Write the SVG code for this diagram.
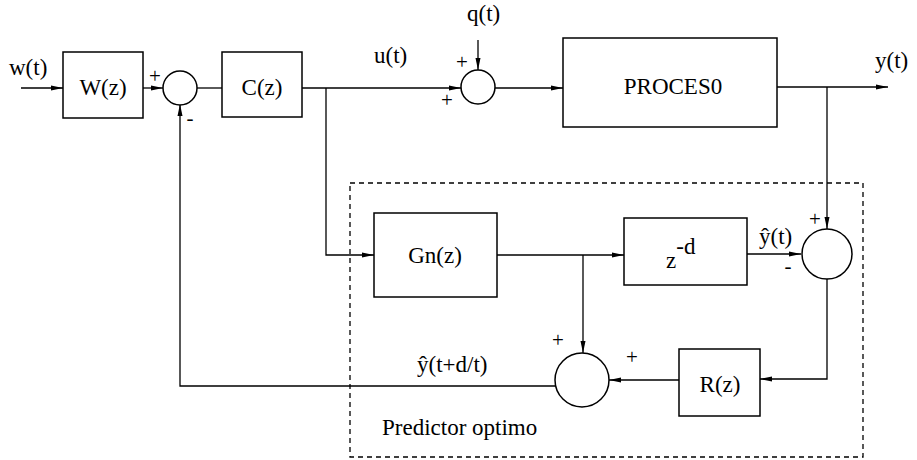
<svg xmlns="http://www.w3.org/2000/svg" width="917" height="460" viewBox="0 0 917 460">
<style>
.b{fill:#fff;stroke:#000;stroke-width:1.5}
.c{fill:none;stroke:#000;stroke-width:1.3}
.t{font-size:23px}
.m{text-anchor:middle}
.s{font-size:21px;text-anchor:middle}
.d{fill:none;stroke:#000;stroke-width:1.3;stroke-dasharray:5 4}
</style>
<defs>
<marker id="a" viewBox="0 0 12 6" refX="12" refY="3" markerWidth="12" markerHeight="6" markerUnits="userSpaceOnUse" orient="auto">
<path d="M0,0.5 L12,3 L0,5.5 Z" fill="#000"/>
</marker>
</defs>
<rect class="d" x="350" y="183" width="513" height="274"/>
<g id="connectors">
<line class="c" x1="21" y1="88" x2="63" y2="88" marker-end="url(#a)"/>
<line class="c" x1="143" y1="88" x2="163" y2="88" marker-end="url(#a)"/>
<line class="c" x1="197" y1="88" x2="222" y2="88"/>
<line class="c" x1="302" y1="88" x2="461" y2="88" marker-end="url(#a)"/>
<line class="c" x1="478" y1="40" x2="478" y2="70" marker-end="url(#a)"/>
<line class="c" x1="495" y1="88" x2="563" y2="88" marker-end="url(#a)"/>
<line class="c" x1="777" y1="87" x2="888" y2="87" marker-end="url(#a)"/>
<line class="c" x1="827" y1="87" x2="827" y2="229" marker-end="url(#a)"/>
<polyline class="c" points="326,88 326,255 374,255" marker-end="url(#a)"/>
<line class="c" x1="497" y1="255" x2="624" y2="255" marker-end="url(#a)"/>
<line class="c" x1="583" y1="255" x2="583" y2="353" marker-end="url(#a)"/>
<line class="c" x1="747" y1="254" x2="801" y2="254" marker-end="url(#a)"/>
<polyline class="c" points="827,279 827,379 760,379" marker-end="url(#a)"/>
<line class="c" x1="679" y1="380" x2="609" y2="380" marker-end="url(#a)"/>
<polyline class="c" points="555,386 180,386 180,104" marker-end="url(#a)"/>
</g>
<g font-family="Liberation Serif, Times New Roman, serif" fill="#000">
<g id="W"><rect class="b" x="63" y="52" width="80" height="66"/><text class="t m" x="103" y="95">W(z)</text></g>
<g id="sum1"><circle class="b" cx="180" cy="88" r="17"/></g>
<g id="C"><rect class="b" x="222" y="52" width="80" height="65"/><text class="t m" x="262" y="95">C(z)</text></g>
<g id="sum2"><circle class="b" cx="478" cy="87" r="17"/></g>
<g id="P"><rect class="b" x="563" y="38" width="214" height="89"/><text class="t m" x="673" y="94">PROCES0</text></g>
<g id="Gn"><rect class="b" x="374" y="213" width="123" height="84"/><text class="t m" x="435" y="263">Gn(z)</text></g>
<g id="Zd"><rect class="b" x="624" y="218" width="123" height="67"/><text class="t" x="666" y="268">z<tspan dy="-14">-d</tspan></text></g>
<g id="sum3"><circle class="b" cx="827" cy="254" r="25"/></g>
<g id="R"><rect class="b" x="679" y="349" width="81" height="67"/><text class="t m" x="720" y="392">R(z)</text></g>
<g id="sum4"><circle class="b" cx="582" cy="380" r="27"/></g>
<g id="labels">
<text class="t" x="9" y="75">w(t)</text>
<text class="s" x="155" y="83">+</text>
<text class="s" x="190" y="125">-</text>
<text class="t" x="374" y="63">u(t)</text>
<text class="t" x="467" y="21">q(t)</text>
<text class="s" x="462" y="69">+</text>
<text class="s" x="447" y="107">+</text>
<text class="t" x="875" y="68">y(t)</text>
<text class="t" x="759" y="244">ŷ(t)</text>
<text class="s" x="815" y="226">+</text>
<text class="s" x="788" y="273">-</text>
<text class="s" x="558" y="347">+</text>
<text class="s" x="632" y="364">+</text>
<text class="t" x="417" y="372">ŷ(t+d/t)</text>
<text class="t" x="382" y="435">Predictor optimo</text>
</g>
</g>
</svg>
